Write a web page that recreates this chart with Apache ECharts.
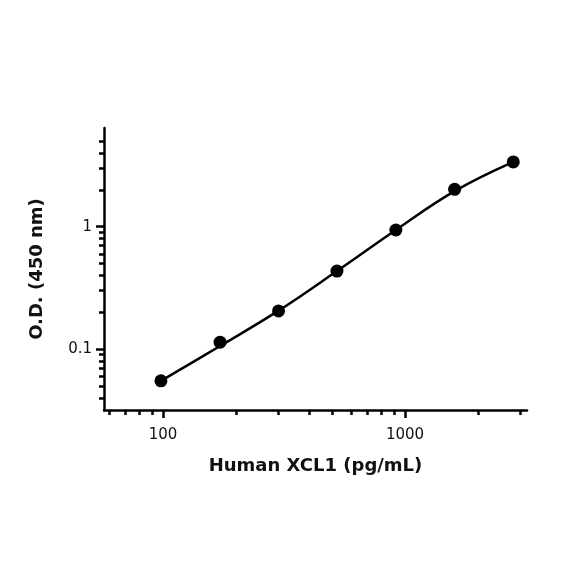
<!DOCTYPE html>
<html><head><meta charset="utf-8">
<script src="https://cdn.jsdelivr.net/npm/echarts@6/dist/echarts.min.js"></script>
<style>html,body{margin:0;padding:0;background:#fff}#c{width:584px;height:584px}</style>
</head><body><div id="c"></div>
<script>
const concentration = [98, 172, 300, 523, 916, 1602, 2800];
const od = [0.055, 0.114, 0.205, 0.434, 0.94, 2.02, 3.38];
// fitted standard curve
const fitConcentration = [98, 172, 300, 523, 916, 1602, 2800];
const fitOd = [0.055, 0.106, 0.206, 0.434, 0.94, 1.95, 3.38];
const xMajorTicks = [100, 1000];
const xMinorTicks = [60, 70, 80, 90, 200, 300, 400, 500, 600, 700, 800, 900, 2000, 3000];
const yMajorTicks = [0.1, 1];
const yMinorTicks = [0.04, 0.05, 0.06, 0.07, 0.08, 0.09, 0.2, 0.3, 0.4, 0.5, 0.6, 0.7, 0.8, 0.9, 2, 3, 4, 5];
const xTitle = 'Human XCL1 (pg/mL)';
const yTitle = 'O.D. (450 nm)';

const chart = echarts.init(document.getElementById('c'));
const font = '"DejaVu Sans", sans-serif';
const xMin = 57, xMax = 3190, yMin = 0.0318, yMax = 6.4;
const black = '#000';
const lineW = 2.5;

chart.setOption({
  animation: false,
  grid: {left: 104, right: 57, top: 128, bottom: 174},
  xAxis: [
    {
      type: 'log', min: xMin, max: xMax, logBase: 10,
      axisLine: {show: true, onZero: false, lineStyle: {color: black, width: lineW}},
      axisTick: {show: true, length: 8, inside: false, customValues: xMajorTicks, lineStyle: {color: black, width: 2.5}},
      axisLabel: {show: true, customValues: xMajorTicks, margin: 18, fontFamily: font, fontSize: 15, color: '#111',
        formatter: v => String(v)},
      splitLine: {show: false},
      name: xTitle, nameLocation: 'middle', nameGap: 47,
      nameTextStyle: {fontFamily: font, fontWeight: 'bold', fontSize: 18, color: '#111'}
    },
    {
      type: 'log', min: xMin, max: xMax, logBase: 10, position: 'bottom',
      axisLine: {show: false},
      axisTick: {show: true, length: 5, customValues: xMinorTicks, lineStyle: {color: black, width: 2.5}},
      axisLabel: {show: false},
      splitLine: {show: false}
    }
  ],
  yAxis: [
    {
      type: 'log', min: yMin, max: yMax, logBase: 10,
      axisLine: {show: true, onZero: false, lineStyle: {color: black, width: lineW}},
      axisTick: {show: true, length: 8, customValues: yMajorTicks, lineStyle: {color: black, width: 2.5}},
      axisLabel: {show: true, customValues: yMajorTicks, margin: 12, fontFamily: font, fontSize: 15, color: '#111',
        formatter: v => String(v)},
      splitLine: {show: false},
      name: yTitle, nameLocation: 'middle', nameGap: 58, nameRotate: 90,
      nameTextStyle: {fontFamily: font, fontWeight: 'bold', fontSize: 18, color: '#111'}
    },
    {
      type: 'log', min: yMin, max: yMax, logBase: 10, position: 'left',
      axisLine: {show: false},
      axisTick: {show: true, length: 5, customValues: yMinorTicks, lineStyle: {color: black, width: 2.5}},
      axisLabel: {show: false},
      splitLine: {show: false}
    }
  ],
  series: [
    {
      type: 'line', xAxisIndex: 0, yAxisIndex: 0,
      data: fitConcentration.map((c, i) => [c, fitOd[i]]),
      smooth: 0.4, showSymbol: false,
      lineStyle: {color: black, width: 2.5}
    },
    {
      type: 'scatter', xAxisIndex: 0, yAxisIndex: 0,
      data: concentration.map((c, i) => [c, od[i]]),
      symbol: 'circle', symbolSize: 13,
      itemStyle: {color: black, opacity: 1}
    }
  ]
});
</script>
</body></html>
